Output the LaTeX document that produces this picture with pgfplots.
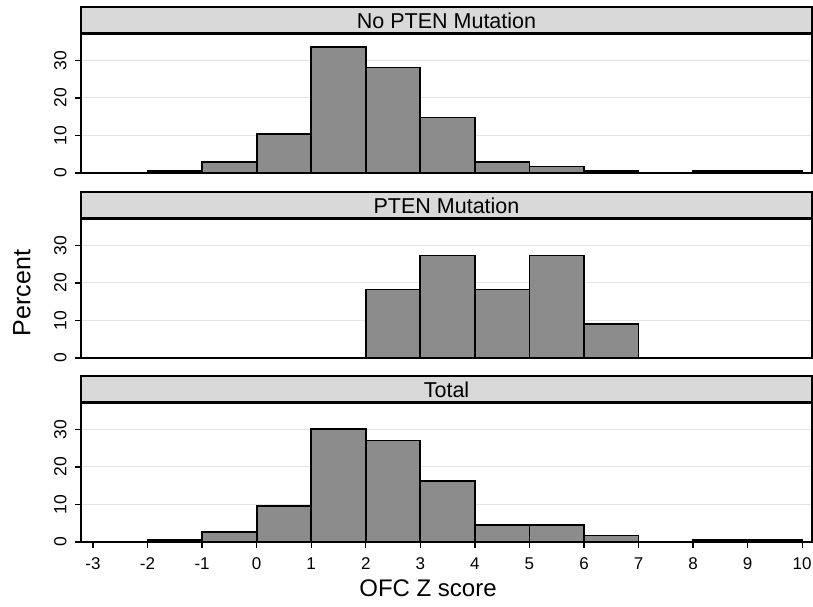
\documentclass[border=0pt]{standalone}
\usepackage{fontspec}
\setmainfont{Liberation Sans}
\usepackage{pgfplots}
\pgfplotsset{compat=1.18}

\definecolor{barfill}{RGB}{140,140,140}
\definecolor{stripgray}{RGB}{217,217,217}
\definecolor{gridgray}{RGB}{228,228,228}

\pgfplotsset{
  panel/.style={
    scale only axis, width=731pt, height=139pt, anchor=south west,
    xmin=-3.22, xmax=10.18, ymin=0, ymax=37,
    ytick={0,10,20,30}, ymajorgrids,
    grid style={color=gridgray, line width=1.2pt},
    axis line style={line width=1.3pt},
    every tick/.style={black, line width=1.3pt},
    tick align=outside, ytick pos=left, major tick length=6pt,
    /pgf/number format/assume math mode=true,
    yticklabel style={rotate=90, anchor=south, yshift=5pt, font=\fontsize{17.5}{17.5}\selectfont},
    xticklabel style={yshift=-6pt, font=\fontsize{17}{17}\selectfont},
    clip=false,
  },
  bars/.style={ybar interval, fill=barfill, draw=black, line width=1.7pt},
}

\newcommand{\strip}[1]{%
  \draw[fill=stripgray, line width=1.3pt] (rel axis cs:0,1) rectangle ([yshift=27pt]rel axis cs:1,1);
  \draw[line width=3pt] (rel axis cs:0,1) -- (rel axis cs:1,1);
  \node[font=\fontsize{21.5}{21.5}\selectfont] at ([yshift=13.5pt]rel axis cs:0.5,1) {#1};
}

\begin{document}
\begin{tikzpicture}
\useasboundingbox (0,0) rectangle (813pt,607pt);

% No PTEN Mutation
\begin{axis}[panel, at={(81pt,434pt)}, xtick=\empty]
\addplot[bars] coordinates {(-2,0.6) (-1,3.0) (0,10.4) (1,33.5) (2,28.1) (3,14.8) (4,3.0) (5,1.7) (6,0.6) (7,0)};
\addplot[bars] coordinates {(8,0.6) (9,0.6) (10,0)};
\strip{No PTEN Mutation}
\end{axis}

% PTEN Mutation
\begin{axis}[panel, at={(81pt,249pt)}, xtick=\empty]
\addplot[bars] coordinates {(2,18.2) (3,27.3) (4,18.2) (5,27.3) (6,9.1) (7,0)};
\strip{PTEN Mutation}
\end{axis}

% Total
\begin{axis}[panel, at={(81pt,65pt)}, xtick={-3,...,10}, xtick pos=left]
\addplot[bars] coordinates {(-2,0.5) (-1,2.6) (0,9.5) (1,30.0) (2,27.0) (3,16.3) (4,4.6) (5,4.6) (6,1.7) (7,0)};
\addplot[bars] coordinates {(8,0.5) (9,0.5) (10,0)};
\strip{Total}
\end{axis}

\node[font=\fontsize{24}{24}\selectfont] at (428pt,19pt) {OFC Z score};
\node[font=\fontsize{25}{25}\selectfont, rotate=90] at (22pt,314pt) {Percent};
\end{tikzpicture}
\end{document}
